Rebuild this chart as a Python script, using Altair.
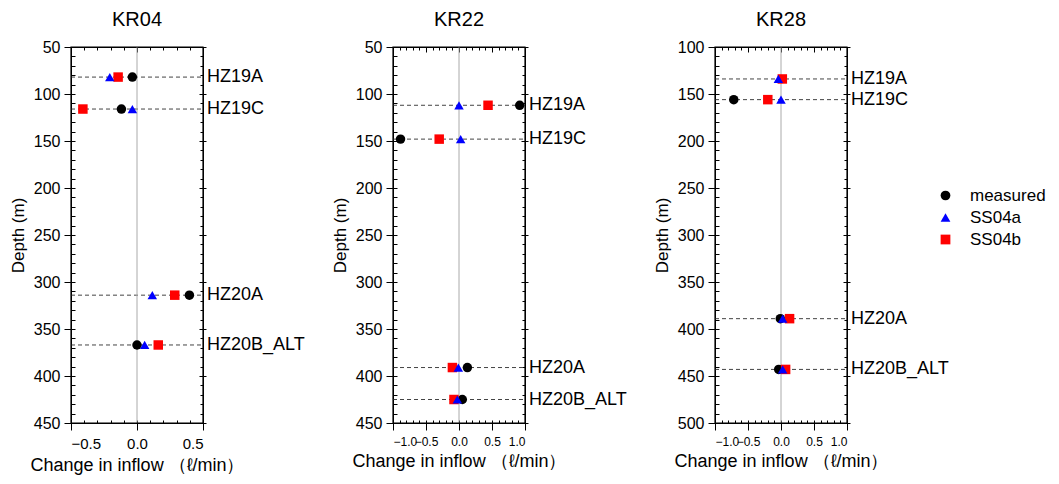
import altair as alt
import pandas as pd

FONT = "Liberation Sans"

series = ["measured", "SS04a", "SS04b"]
series_colors = ["#000000", "#0000ff", "#ff0000"]
series_shapes = ["circle", "triangle-up", "square"]
zones = ["HZ19A", "HZ19C", "HZ20A", "HZ20B_ALT"]

# KR04
kr04_depth = [82, 116, 314, 367]
kr04_measured = [-0.035, -0.118, 0.397, 0.0]
kr04_ss04a = [-0.206, -0.035, 0.116, 0.058]
kr04_ss04b = [-0.143, -0.41, 0.286, 0.161]

# KR22
kr22_depth = [112, 148, 391, 425]
kr22_measured = [0.92, -0.886, 0.127, 0.05]
kr22_ss04a = [0.0, 0.025, -0.01, -0.025]
kr22_ss04b = [0.44, -0.30, -0.10, -0.076]

# KR28
kr28_depth = [134, 156, 389, 443]
kr28_measured = [None, -0.716, -0.01, -0.035]
kr28_ss04a = [-0.04, 0.0, 0.025, 0.025]
kr28_ss04b = [0.02, -0.20, 0.13, 0.07]

W, H = 132, 376
INK = "#000000"


def panel(name, depth, meas, ssa, ssb, xdom, ydom, xmaj, xstep, ymaj, xlab_size):
    rows = []
    for s, vals in (("measured", meas), ("SS04b", ssb), ("SS04a", ssa)):
        for d, v in zip(depth, vals):
            if v is not None:
                rows.append({"series": s, "depth": d, "inflow": v})
    pts = pd.DataFrame(rows)
    zdf = pd.DataFrame({"zone": zones, "depth": depth})
    one = pd.DataFrame({"k": [0]})

    n = int(round((xdom[1] - xdom[0]) / xstep))
    xminor = [round(xdom[0] + xstep * i, 2) for i in range(n + 1)]
    yminor = list(range(ydom[0], ydom[1] + 1, 10))

    xs = alt.Scale(domain=xdom, nice=False, zero=False)
    ys = alt.Scale(domain=ydom, nice=False, zero=False, reverse=True)

    common = dict(domain=False, grid=False, ticks=True, tickColor=INK, tickWidth=1)
    y_left_major = alt.Axis(orient="left", values=ymaj, tickSize=8, offset=-1,
                            labelFontSize=16, labelPadding=4, title="Depth (m)",
                            titleFontSize=17, titleFontWeight="normal", titlePadding=6,
                            **common)
    y_left_minor = alt.Axis(orient="left", values=yminor, tickSize=4, offset=-4,
                            labels=False, title=None, **common)
    y_right_major = alt.Axis(orient="right", values=ymaj, tickSize=7, offset=-4,
                             labels=False, title=None, **common)
    y_right_minor = alt.Axis(orient="right", values=yminor, tickSize=3, offset=-3,
                             labels=False, title=None, **common)
    x_bottom_major = alt.Axis(orient="bottom", values=xmaj, tickSize=8, offset=-1,
                              format=".1f", labelFontSize=xlab_size, labelPadding=6,
                              labelOverlap=False,
                              title="Change in inflow （ℓ/min）", titleFontSize=18,
                              titleFontWeight="normal", titlePadding=5, **common)
    x_bottom_minor = alt.Axis(orient="bottom", values=xminor, tickSize=3, offset=-3,
                              labels=False, title=None, **common)
    x_top_major = alt.Axis(orient="top", values=xmaj, tickSize=5, offset=-5,
                           labels=False, title=None, **common)
    x_top_minor = alt.Axis(orient="top", values=xminor, tickSize=3, offset=-3,
                           labels=False, title=None, **common)

    frame = alt.Chart(one).mark_rect(fillOpacity=0, stroke=INK, strokeWidth=1.2).encode(
        x=alt.X(datum=xdom[0], type="quantitative", scale=xs, axis=None),
        x2=alt.X2(datum=xdom[1]),
        y=alt.Y(datum=ydom[0], type="quantitative", scale=ys, axis=None),
        y2=alt.Y2(datum=ydom[1]),
    )
    dashed = alt.Chart(zdf).mark_rule(color="#444444", strokeWidth=1, strokeDash=[4, 3]).encode(
        x=alt.X(datum=xdom[0], type="quantitative", scale=xs, axis=x_bottom_major),
        x2=alt.X2(datum=xdom[1]),
        y=alt.Y("depth:Q", scale=ys, axis=y_left_major),
    )
    zero = alt.Chart(one).mark_rule(color="#aaaaaa", strokeWidth=1).encode(
        x=alt.X(datum=0, type="quantitative", scale=xs, axis=x_bottom_minor),
        y=alt.Y(datum=ydom[0], type="quantitative", scale=ys, axis=y_left_minor),
        y2=alt.Y2(datum=ydom[1]),
    )
    legend = alt.Legend(orient="none", legendX=866, legendY=140, title=None,
                        labelFontSize=17, labelFont=FONT, symbolSize=95,
                        symbolOpacity=1, symbolStrokeWidth=0, rowPadding=4,
                        labelOffset=16)
    points = alt.Chart(pts).mark_point(filled=True, size=90, opacity=1).encode(
        x=alt.X("inflow:Q", scale=xs, axis=x_top_major),
        y=alt.Y("depth:Q", scale=ys, axis=y_right_major),
        color=alt.Color("series:N", scale=alt.Scale(domain=series, range=series_colors),
                        legend=legend),
        shape=alt.Shape("series:N", scale=alt.Scale(domain=series, range=series_shapes),
                        legend=legend),
        order=alt.Order("ord:Q"),
    ).transform_calculate(
        ord="datum.series === 'measured' ? 0 : (datum.series === 'SS04b' ? 1 : 2)"
    )
    labels = alt.Chart(zdf).mark_text(align="left", baseline="middle", dx=4,
                                      fontSize=18, font=FONT, color=INK).encode(
        x=alt.X(datum=xdom[1], type="quantitative", scale=xs, axis=x_top_minor),
        y=alt.Y("depth:Q", scale=ys, axis=y_right_minor),
        text="zone:N",
    )
    return alt.layer(dashed, zero, points, labels, frame).resolve_axis(
        x="independent", y="independent"
    ).properties(width=W, height=H, title=name)


p1 = panel("KR04", kr04_depth, kr04_measured, kr04_ss04a, kr04_ss04b,
           [-0.5, 0.5], [50, 450], [-0.5, 0.0, 0.5], 0.1,
           [50, 100, 150, 200, 250, 300, 350, 400, 450], 15)
p2 = panel("KR22", kr22_depth, kr22_measured, kr22_ss04a, kr22_ss04b,
           [-1.0, 1.0], [50, 450], [-1.0, -0.5, 0.0, 0.5, 1.0], 0.1,
           [50, 100, 150, 200, 250, 300, 350, 400, 450], 12)
p3 = panel("KR28", kr28_depth, kr28_measured, kr28_ss04a, kr28_ss04b,
           [-1.0, 1.0], [100, 500], [-1.0, -0.5, 0.0, 0.5, 1.0], 0.1,
           [100, 150, 200, 250, 300, 350, 400, 450, 500], 12)

chart = alt.hconcat(p1, p2, p3, spacing=190, bounds="flush").properties(
    padding={"left": 8, "top": 9, "right": 0, "bottom": 2}
).configure_view(
    stroke=INK, strokeWidth=1
).configure_axis(
    labelFont=FONT, titleFont=FONT, labelColor=INK, titleColor=INK
).configure_title(
    font=FONT, fontSize=20, fontWeight="normal", anchor="middle", offset=9,
    color=INK
)

chart.save("out.html", embed_options={"renderer": "svg", "actions": False})
